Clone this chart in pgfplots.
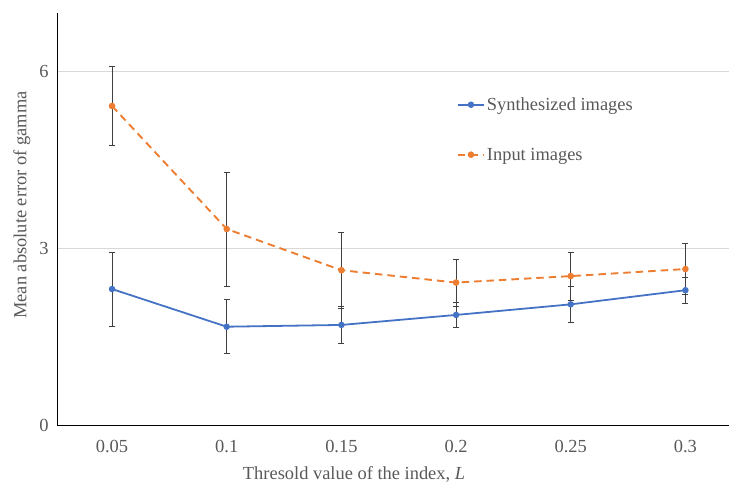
\documentclass[border=0pt]{standalone}
\usepackage{fontspec}
\setmainfont{Liberation Serif}
\usepackage{pgfplots}
\pgfplotsset{compat=1.18}
\definecolor{xlblue}{HTML}{4472C4}
\definecolor{xlorange}{HTML}{ED7D31}
\definecolor{xlgrid}{HTML}{D9D9D9}
\definecolor{xltext}{HTML}{595959}
\definecolor{xlerr}{HTML}{404040}

\begin{document}
\begin{tikzpicture}
\begin{axis}[
  scale only axis,
  width=672bp, height=412bp,
  xmin=-0.48, xmax=5.38,
  ymin=0, ymax=7,
  xtick={0,1,2,3,4,5},
  xticklabels={0.05,0.1,0.15,0.2,0.25,0.3},
  ytick={0,3,6},
  axis x line=bottom, axis y line=left,
  axis line style={-, black, line width=0.8pt},
  major tick length=0pt,
  ymajorgrids, grid style={xlgrid, line width=0.8pt},
  tick label style={font=\fontsize{18.5}{20}\selectfont, text=xltext},
  /pgf/number format/assume math mode=true,
  xticklabel style={anchor=center, yshift=-22bp},
  yticklabel style={anchor=east, xshift=-5bp},
  xlabel={Thresold value of the index, \textit{L}},
  ylabel={Mean absolute error of gamma},
  label style={font=\fontsize{18.5}{20}\selectfont, text=xltext},
  xlabel style={at={(axis description cs:0.442,0)}, anchor=center, yshift=-49bp},
  ylabel style={at={(axis description cs:0,0.534)}, anchor=center, yshift=35bp},
  legend style={at={(0.595,0.8)}, anchor=north west, draw=none, fill=none,
    font=\fontsize{18.5}{20}\selectfont, text=xltext, row sep=32bp,
    inner sep=0pt},
  legend cell align=left,
  legend image code/.code={
    \draw[mark repeat=2, mark phase=2] plot coordinates {(0bp,0bp) (13bp,0bp) (26bp,0bp)};},
]
\addplot[color=xlblue, line width=1.8pt, mark=*, mark size=2.3pt,
  error bars/.cd, y dir=both, y explicit,
  error bar style={color=xlerr, line width=0.7pt},
  error mark options={rotate=90, mark size=3pt, color=xlerr, line width=0.7pt}]
  coordinates {
    (0,2.31) +- (0,0.63)
    (1,1.67) +- (0,0.46)
    (2,1.70) +- (0,0.32)
    (3,1.87) +- (0,0.21)
    (4,2.05) +- (0,0.31)
    (5,2.29) +- (0,0.22)
  };
\addlegendentry{Synthesized images}
\addplot[color=xlorange, line width=1.9pt, dash pattern=on 7.5pt off 5pt,
  mark=*, mark size=2.3pt, mark options={solid},
  error bars/.cd, y dir=both, y explicit,
  error bar style={color=xlerr, line width=0.7pt, solid},
  error mark options={rotate=90, mark size=3pt, color=xlerr, line width=0.7pt, solid}]
  coordinates {
    (0,5.42) +- (0,0.67)
    (1,3.33) +- (0,0.97)
    (2,2.63) +- (0,0.64)
    (3,2.42) +- (0,0.40)
    (4,2.53) +- (0,0.41)
    (5,2.65) +- (0,0.43)
  };
\addlegendentry{Input images}
\end{axis}
\pgfresetboundingbox
\path[use as bounding box]
  ([xshift=-57bp,yshift=13bp]current axis.north west)
  rectangle ([xshift=1bp,yshift=-58bp]current axis.south east);
\end{tikzpicture}
\end{document}
